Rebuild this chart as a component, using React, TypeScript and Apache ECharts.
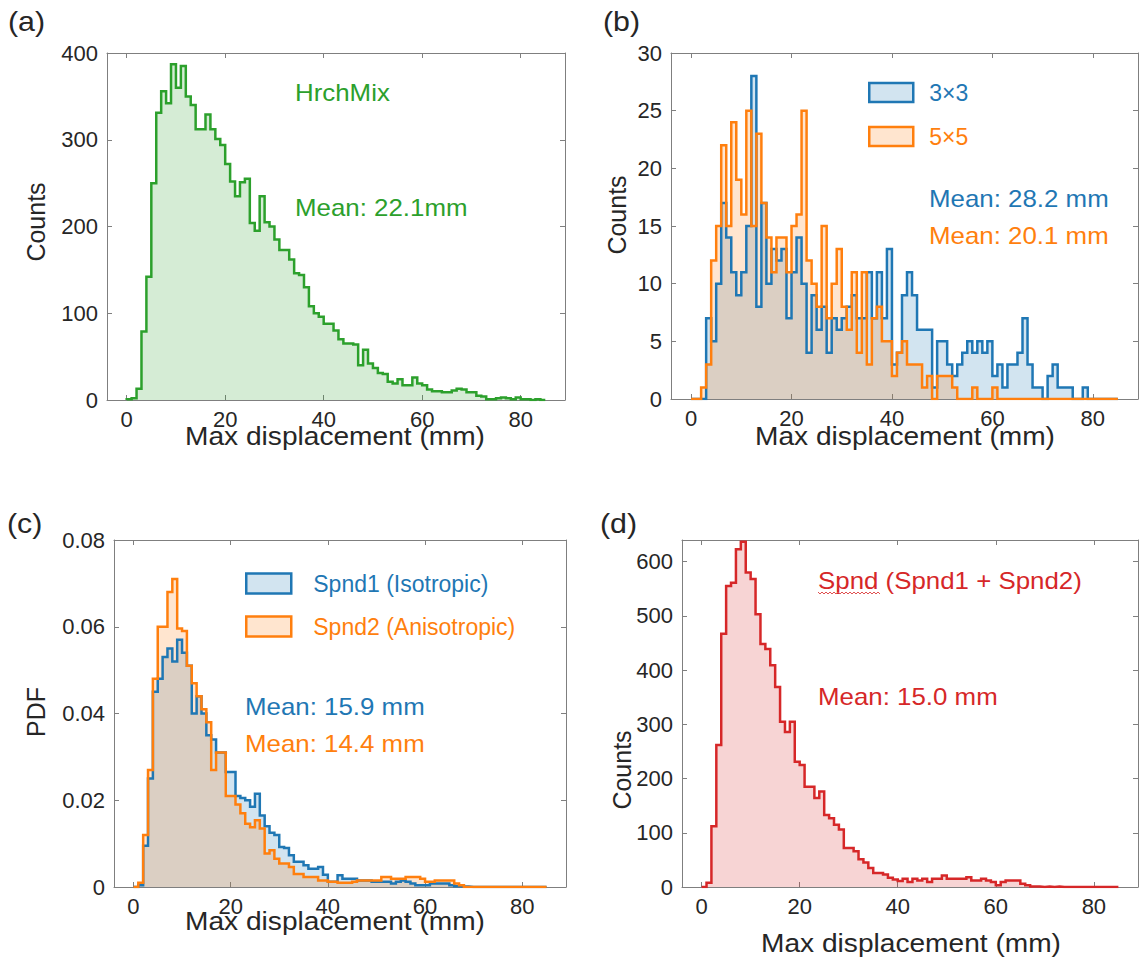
import React, { useEffect, useRef } from "react";
import * as echarts from "echarts";

// ---------- data ----------
const BIN_START = 0;
const BIN_WIDTH = 1;
const X_MIN = -4;
const X_MAX = 89;
const xTicks = [0, 20, 40, 60, 80];

const yTicksA = [0, 100, 200, 300, 400];
const yTicksB = [0, 5, 10, 15, 20, 25, 30];
const yTicksC = [0, 0.02, 0.04, 0.06, 0.08];
const yTicksD = [0, 100, 200, 300, 400, 500, 600];

// (a) HrchMix counts, 1 mm bins from 0
const hrchMixCounts = [
  1, 2, 13, 79, 142, 250, 331, 356, 342, 387,
  360, 385, 350, 340, 312, 312, 329, 312, 301, 294,
  272, 252, 235, 251, 255, 204, 195, 235, 205, 200,
  185, 173, 173, 162, 146, 144, 130, 108, 100, 96,
  88, 88, 80, 70, 65, 65, 64, 40, 58, 42,
  37, 31, 30, 21, 19, 24, 17, 17, 26, 19,
  17, 12, 10, 10, 9, 9, 11, 13, 12, 9,
  9, 5, 4, 1, 1, 2, 3, 2, 1, 3,
  1, 1, 0, 1, 0,
];

// (b) 3x3 and 5x5 counts
const counts3x3 = [
  0, 0, 0, 7, 5, 10, 17, 14, 11, 9,
  11, 15, 28, 8, 17, 10, 13, 12, 13, 7,
  11, 14, 10, 4, 9, 6, 8, 4, 7, 6,
  7, 8, 9, 7, 7, 11, 7, 11, 7, 13,
  3, 4, 9, 11, 9, 6, 6, 6, 1, 5,
  5, 3, 2, 3, 4, 5, 4, 5, 4, 5,
  2, 3, 1, 3, 3, 4, 7, 3, 1, 1,
  0, 2, 3, 1, 1, 1, 0, 0, 1, 0,
  0, 0, 0, 0, 0,
];
const counts5x5 = [
  0, 0, 1, 3, 12, 15, 22, 15, 24, 19,
  16, 25, 15, 23, 17, 14, 11, 14, 14, 11,
  15, 16, 25, 12, 10, 8, 15, 7, 10, 13,
  8, 6, 11, 4, 11, 3, 7, 8, 5, 5,
  2, 4, 5, 3, 3, 3, 1, 2, 0, 2,
  2, 2, 1, 0, 0, 0, 1, 0, 0, 0,
  1, 0, 0, 0, 0, 0, 0, 0, 0, 0,
  0, 0, 0, 0, 0, 0, 0, 0, 0, 0,
  0, 0, 0, 0, 0,
];

// (c) PDFs
const spnd1Pdf = [
  0, 0.0004, 0.0095, 0.025, 0.045, 0.048, 0.053, 0.055, 0.052, 0.057,
  0.054, 0.051, 0.040, 0.044, 0.040, 0.035, 0.034, 0.031, 0.031, 0.0265,
  0.0265, 0.021, 0.0205, 0.020, 0.0185, 0.0215, 0.0165, 0.014, 0.0125, 0.012,
  0.0092, 0.009, 0.0073, 0.0058, 0.0058, 0.005, 0.0042, 0.0042, 0.0046, 0.0028,
  0.0012, 0.0012, 0.0027, 0.0019, 0.0019, 0.0019, 0.0015, 0.0015, 0.0015, 0.0012,
  0.0012, 0.0012, 0.0012, 0.0008, 0.0012, 0.0015, 0.0012, 0.0008, 0.0004, 0.0004,
  0.0004, 0.0008, 0.0008, 0.0008, 0.0008, 0.0004, 0.0002, 0.0001, 0.0001, 0,
  0, 0, 0, 0, 0, 0, 0, 0, 0, 0,
  0, 0, 0, 0, 0,
];
const spnd2Pdf = [
  0, 0.001, 0.012, 0.027, 0.048, 0.060, 0.060, 0.068, 0.071, 0.0596,
  0.059, 0.051, 0.047, 0.044, 0.041, 0.038, 0.027, 0.031, 0.031, 0.021,
  0.021, 0.019, 0.017, 0.0146, 0.0138, 0.0154, 0.0135, 0.0077, 0.0085, 0.0065,
  0.0054, 0.0054, 0.0046, 0.003, 0.003, 0.0023, 0.0023, 0.0023, 0.0015, 0.0015,
  0.0012, 0.0012, 0.001, 0.001, 0.001, 0.0012, 0.0015, 0.0015, 0.0015, 0.0015,
  0.0015, 0.0023, 0.0023, 0.0019, 0.0019, 0.0019, 0.0023, 0.0023, 0.0023, 0.0019,
  0.0012, 0.0012, 0.0015, 0.0015, 0.0015, 0.0015, 0.0008, 0.0004, 0, 0,
  0, 0, 0, 0, 0, 0, 0, 0, 0, 0,
  0, 0, 0, 0, 0,
];

// (d) Spnd counts
const spndCounts = [
  0, 8, 112, 262, 467, 555, 561, 623, 637, 580,
  568, 503, 448, 439, 409, 369, 305, 286, 305, 231,
  225, 185, 185, 164, 176, 133, 127, 115, 106, 72,
  72, 66, 51, 45, 35, 26, 26, 23, 17, 14,
  11, 15, 9, 15, 12, 15, 9, 15, 15, 21,
  15, 15, 15, 15, 18, 12, 12, 15, 12, 9,
  3, 9, 12, 12, 12, 6, 3, 1, 1, 0,
  1, 0, 1, 0, 0, 0, 0, 0, 0, 0,
  0, 0, 0, 0, 0,
];

// ---------- style ----------
const FONT = '"Liberation Sans", Arial, Helvetica, sans-serif';
const AXIS_COLOR = "#7f7f7f";
const LABEL_COLOR = "#262626";
const GREEN = "#2ca02c";
const BLUE = "#1f77b4";
const ORANGE = "#ff7f0e";
const RED = "#d62728";
const GREEN_FILL = "rgba(44,160,44,0.2)";
const BLUE_FILL = "rgba(31,119,180,0.2)";
const ORANGE_FILL = "rgba(255,127,14,0.2)";
const RED_FILL = "rgba(214,39,40,0.2)";
const SX = 1.125;

function stepPoints(counts: number[]): number[][] {
  const pts: number[][] = [[BIN_START, 0]];
  counts.forEach((c, i) => {
    const lo = BIN_START + i * BIN_WIDTH;
    const hi = lo + BIN_WIDTH;
    pts.push([lo, c], [hi, c]);
  });
  pts.push([BIN_START + counts.length * BIN_WIDTH, 0]);
  return pts;
}

function xAxes(gridIndex: number) {
  const common = {
    type: "value",
    gridIndex,
    min: X_MIN,
    max: X_MAX,
    splitLine: { show: false },
    axisLine: { show: true, onZero: false, lineStyle: { color: AXIS_COLOR, width: 1 } },
    axisTick: { show: true, inside: true, length: 5, customValues: xTicks, lineStyle: { color: AXIS_COLOR } },
  };
  return [
    {
      ...common,
      position: "bottom",
      axisLabel: { show: true, customValues: xTicks, color: LABEL_COLOR, fontSize: 22, fontFamily: FONT, margin: 8 },
    },
    { ...common, position: "top", axisLabel: { show: false } },
  ];
}

function yAxes(gridIndex: number, max: number, ticks: number[], fmt?: (v: number) => string) {
  const common = {
    type: "value",
    gridIndex,
    min: 0,
    max,
    splitLine: { show: false },
    axisLine: { show: true, onZero: false, lineStyle: { color: AXIS_COLOR, width: 1 } },
    axisTick: { show: true, inside: true, length: 5, customValues: ticks, lineStyle: { color: AXIS_COLOR } },
  };
  return [
    {
      ...common,
      position: "left",
      axisLabel: {
        show: true,
        customValues: ticks,
        color: LABEL_COLOR,
        fontSize: 22,
        fontFamily: FONT,
        margin: 9,
        formatter: fmt,
      },
    },
    { ...common, position: "right", axisLabel: { show: false } },
  ];
}

function hist(name: string, counts: number[], g: number, color: string, fill: string) {
  return {
    type: "line",
    name,
    xAxisIndex: 2 * g,
    yAxisIndex: 2 * g,
    data: stepPoints(counts),
    symbol: "none",
    showSymbol: false,
    silent: true,
    lineStyle: { color, width: 2.5, join: "miter" },
    itemStyle: { color },
    areaStyle: { color: fill, opacity: 1, origin: "start" },
  };
}

function txt(text: string, x: number, y: number, color: string, size: number, opts: any = {}) {
  return {
    type: "text",
    x,
    y,
    scaleX: opts.scaleX ?? SX,
    rotation: opts.rotation ?? 0,
    silent: true,
    style: {
      text,
      fill: color,
      fontSize: size,
      fontFamily: FONT,
      align: opts.align ?? "left",
      verticalAlign: "middle",
    },
  };
}

function squiggle(x0: number, x1: number, y: number) {
  const pts: number[][] = [];
  let up = true;
  for (let x = x0; x <= x1; x += 2) {
    pts.push([x, up ? y - 1 : y + 1]);
    up = !up;
  }
  return pts;
}

export default function App() {
  const ref = useRef<HTMLDivElement>(null);

  useEffect(() => {
    if (!ref.current) return;
    const chart = echarts.init(ref.current, null, { renderer: "svg" });
    const fmtC = (v: number) => (v === 0 ? "0" : v.toFixed(2));

    const option: any = {
      animation: false,
      backgroundColor: "#ffffff",
      grid: [
        { left: 107, top: 53, width: 458, height: 347 },
        { left: 671, top: 53, width: 467, height: 346 },
        { left: 114, top: 540, width: 452, height: 347 },
        { left: 682, top: 540, width: 456, height: 347 },
      ],
      xAxis: [...xAxes(0), ...xAxes(1), ...xAxes(2), ...xAxes(3)],
      yAxis: [
        ...yAxes(0, 400, yTicksA),
        ...yAxes(1, 30, yTicksB),
        ...yAxes(2, 0.08, yTicksC, fmtC),
        ...yAxes(3, 640, yTicksD),
      ],
      legend: [
        {
          orient: "vertical",
          left: 868,
          top: 81,
          padding: 0,
          itemWidth: 44,
          itemHeight: 19,
          itemGap: 21,
          icon: "rect",
          selectedMode: false,
          textStyle: { fontSize: 23, fontFamily: FONT, lineHeight: 19, padding: [0, 0, 0, 11] },
          data: [
            { name: "3×3", itemStyle: { color: BLUE_FILL, borderColor: BLUE, borderWidth: 2.5 }, textStyle: { color: BLUE } },
            { name: "5×5", itemStyle: { color: ORANGE_FILL, borderColor: ORANGE, borderWidth: 2.5 }, textStyle: { color: ORANGE } },
          ],
        },
        {
          orient: "vertical",
          left: 245,
          top: 572,
          padding: 0,
          itemWidth: 45,
          itemHeight: 20,
          itemGap: 20,
          icon: "rect",
          selectedMode: false,
          textStyle: { fontSize: 23, fontFamily: FONT, lineHeight: 20, padding: [0, 0, 0, 17] },
          data: [
            { name: "Spnd1 (Isotropic)", itemStyle: { color: BLUE_FILL, borderColor: BLUE, borderWidth: 2.5 }, textStyle: { color: BLUE } },
            { name: "Spnd2 (Anisotropic)", itemStyle: { color: ORANGE_FILL, borderColor: ORANGE, borderWidth: 2.5 }, textStyle: { color: ORANGE } },
          ],
        },
      ],
      series: [
        hist("HrchMix", hrchMixCounts, 0, GREEN, GREEN_FILL),
        hist("3×3", counts3x3, 1, BLUE, BLUE_FILL),
        hist("5×5", counts5x5, 1, ORANGE, ORANGE_FILL),
        hist("Spnd1 (Isotropic)", spnd1Pdf, 2, BLUE, BLUE_FILL),
        hist("Spnd2 (Anisotropic)", spnd2Pdf, 2, ORANGE, ORANGE_FILL),
        hist("Spnd (Spnd1 + Spnd2)", spndCounts, 3, RED, RED_FILL),
      ],
      graphic: [
        // panel letters
        txt("(a)", 8, 22, "#262626", 27),
        txt("(b)", 603, 22, "#262626", 27),
        txt("(c)", 7, 524, "#262626", 27),
        txt("(d)", 600, 524, "#262626", 27),
        // axis titles
        txt("Max displacement (mm)", 335, 437, LABEL_COLOR, 25, { align: "center" }),
        txt("Max displacement (mm)", 905, 437, LABEL_COLOR, 25, { align: "center" }),
        txt("Max displacement (mm)", 335, 922, LABEL_COLOR, 25, { align: "center" }),
        txt("Max displacement (mm)", 911, 944, LABEL_COLOR, 25, { align: "center" }),
        txt("Counts", 36, 222, LABEL_COLOR, 25, { align: "center", rotation: Math.PI / 2, scaleX: 1 }),
        txt("Counts", 617, 215, LABEL_COLOR, 25, { align: "center", rotation: Math.PI / 2, scaleX: 1 }),
        txt("PDF", 36, 712, LABEL_COLOR, 25, { align: "center", rotation: Math.PI / 2, scaleX: 1 }),
        txt("Counts", 622, 770, LABEL_COLOR, 25, { align: "center", rotation: Math.PI / 2, scaleX: 1 }),
        // annotations
        txt("HrchMix", 295, 93, GREEN, 23),
        txt("Mean: 22.1mm", 295, 208, GREEN, 23),
        txt("Mean: 28.2 mm", 929, 199, BLUE, 23),
        txt("Mean: 20.1 mm", 929, 236, ORANGE, 23),
        txt("Mean: 15.9 mm", 245, 707, BLUE, 23),
        txt("Mean: 14.4 mm", 245, 744, ORANGE, 23),
        txt("Spnd (Spnd1 + Spnd2)", 818, 581, RED, 23),
        txt("Mean: 15.0 mm", 818, 697, RED, 23),
        {
          type: "polyline",
          silent: true,
          shape: { points: squiggle(818, 880, 593) },
          style: { stroke: "#e05050", lineWidth: 1, fill: null },
        },
      ],
    };

    chart.setOption(option);
    return () => chart.dispose();
  }, []);

  return (
    <div
      ref={ref}
      style={{ position: "fixed", left: 0, top: 0, width: 1140, height: 966, background: "#fff" }}
    />
  );
}
